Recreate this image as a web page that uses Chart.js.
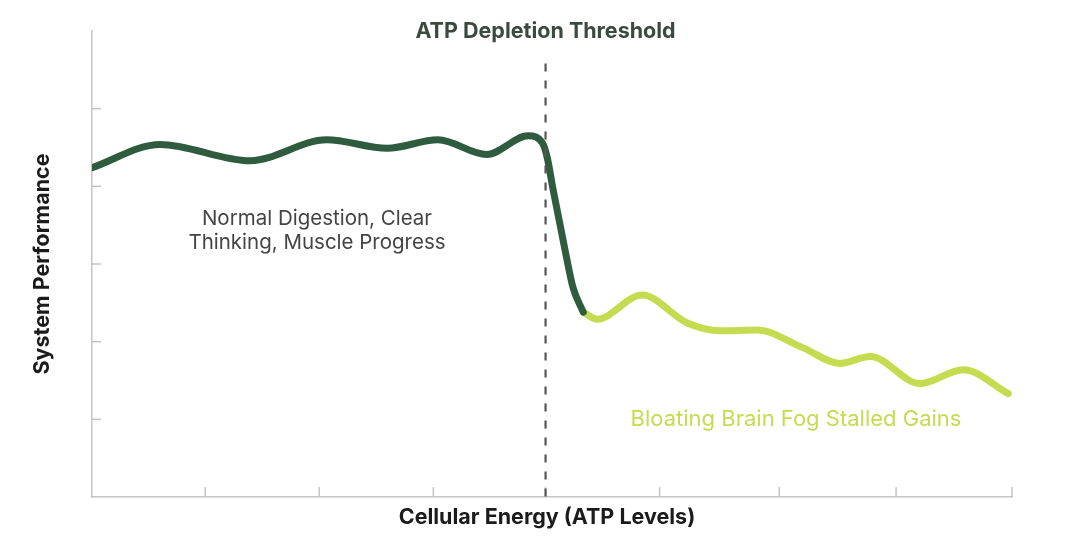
<!DOCTYPE html>
<html>
<head>
<meta charset="utf-8">
<script src="https://cdn.jsdelivr.net/npm/chart.js@4/dist/chart.umd.min.js"></script>
<style>
  html, body { margin: 0; padding: 0; background: #fff; }
  #wrap { width: 1080px; height: 540px; }
</style>
</head>
<body>
<div id="wrap"><canvas id="atpChart"></canvas></div>
<script>
// energy axis in % of the range, performance on a 0-6 scale
var healthyX = [0, 7.4, 17.2, 25.5, 32.1, 37.6, 42.9, 47.4, 49.0, 49.5, 50.1, 51.5, 52.3, 53.4];
var healthyY = [4.24, 4.54, 4.33, 4.60, 4.49, 4.60, 4.41, 4.65, 4.55, 4.36, 3.97, 3.13, 2.69, 2.38];
var depletedX = [53.4, 54.9, 59.8, 64.7, 68.3, 72.3, 77.3, 81.3, 84.6, 90.0, 94.7, 99.6];
var depletedY = [2.38, 2.29, 2.60, 2.24, 2.14, 2.15, 1.92, 1.72, 1.81, 1.46, 1.64, 1.33];
var xTickValues = [12.3, 24.7, 37.1, 49.3, 61.7, 74.7, 87.4, 100];
var yTickValues = [1, 2, 3, 4, 5];
var thresholdX = 49.3;
var thresholdTop = 5.58;

function toPoints(xs, ys) {
    return xs.map(function (x, i) { return {x: x, y: ys[i]}; });
}

var darkGreen = "#2f5c3e";
var lightGreen = "#c5dc50";
var axisGrey = "#c4c4c4";

var overlay = {
    id: 'overlay',
    afterDraw: function (chart) {
        var c = chart.ctx;
        var xs = chart.scales.x, ys = chart.scales.y;
        var area = chart.chartArea;
        c.save();
        // inner ticks
        c.strokeStyle = axisGrey;
        c.lineWidth = 1.5;
        xTickValues.forEach(function (v) {
            var px = xs.getPixelForValue(v);
            c.beginPath();
            c.moveTo(px, area.bottom);
            c.lineTo(px, area.bottom - 10);
            c.stroke();
        });
        yTickValues.forEach(function (v) {
            var py = ys.getPixelForValue(v);
            c.beginPath();
            c.moveTo(area.left, py);
            c.lineTo(area.left + 9, py);
            c.stroke();
        });
        // threshold line
        var tx = xs.getPixelForValue(thresholdX);
        c.strokeStyle = "#555";
        c.lineWidth = 2.2;
        c.setLineDash([8, 9]);
        c.beginPath();
        c.moveTo(tx, ys.getPixelForValue(thresholdTop));
        c.lineTo(tx, area.bottom);
        c.stroke();
        c.setLineDash([]);

        c.textAlign = "center";
        c.textBaseline = "middle";
        c.fillStyle = "#3b4a3f";
        c.font = "bold 21.5px Inter";
        c.fillText("ATP Depletion Threshold", tx, 32);

        c.fillStyle = "#444";
        c.font = "20.5px Inter";
        c.fillText("Normal Digestion, Clear", 317, 219);
        c.fillText("Thinking, Muscle Progress", 317, 243);

        c.fillStyle = lightGreen;
        c.font = "22px Inter";
        c.fillText("Bloating Brain Fog Stalled Gains", 796, 419);

        c.fillStyle = "#1b1b1b";
        c.font = "bold 21.5px Inter";
        c.fillText("Cellular Energy (ATP Levels)", 547, 518);
        c.translate(43, 264);
        c.rotate(-Math.PI / 2);
        c.fillText("System Performance", 0, 0);
        c.restore();
    }
};

var ctx = document.getElementById('atpChart');
var atpChart = new Chart(ctx, {
    type: 'line',
    data: {
        datasets: [{
            label: "Healthy",
            data: toPoints(healthyX, healthyY),
            borderColor: darkGreen,
            borderWidth: 7,
            borderCapStyle: 'round',
            pointRadius: 0,
            cubicInterpolationMode: 'monotone'
        }, {
            label: "Depleted",
            data: toPoints(depletedX, depletedY),
            borderColor: lightGreen,
            borderWidth: 7,
            borderCapStyle: 'round',
            pointRadius: 0,
            cubicInterpolationMode: 'monotone'
        }]
    },
    options: {
        responsive: true,
        maintainAspectRatio: false,
        animation: false,
        layout: {padding: {left: 84, right: 68, top: 31, bottom: 35}},
        plugins: {
            legend: {display: false},
            tooltip: {enabled: false}
        },
        scales: {
            x: {
                type: 'linear',
                min: 0,
                max: 100,
                grid: {display: false},
                ticks: {display: false},
                border: {display: true, color: axisGrey, width: 1.5}
            },
            y: {
                min: 0,
                max: 6,
                grid: {display: false},
                ticks: {display: false},
                border: {display: true, color: axisGrey, width: 1.5}
            }
        }
    },
    plugins: [overlay]
});
</script>
</body>
</html>
